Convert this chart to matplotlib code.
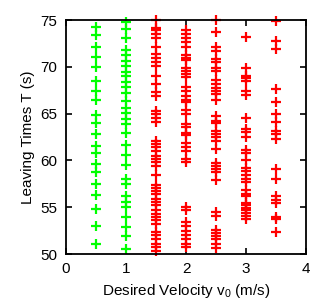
import numpy as np
import matplotlib.pyplot as plt

# leaving times, one list per desired velocity
t_05 = [74.3, 73.4, 72.1, 71.1, 70.0, 68.5, 67.4, 66.5, 64.9, 64.0, 62.8, 61.6,
        60.8, 59.6, 58.8, 57.5, 56.3, 54.8, 53.0, 51.1]
t_10 = [74.75, 74.0, 73.1, 71.8, 71.25, 70.64, 70.14, 69.5, 69.0, 68.4, 67.9, 67.25,
        66.4, 65.6, 65.07, 64.46, 63.85, 62.9, 61.64, 60.57, 59.57, 58.07, 57.5,
        56.18, 55.6, 55.03, 54.0, 52.9, 51.96, 50.56]
t_15 = [75.0, 74.2, 73.9, 73.5, 73.1, 72.1, 71.4, 70.9, 70.5, 70.1, 69.0, 68.2,
        67.3, 66.9, 65.3, 65.0, 64.5, 64.1, 62.1, 61.8, 61.4, 61.0, 60.5, 60.2,
        59.8, 59.4, 58.5, 57.4, 57.1, 56.7, 56.4, 55.9, 55.6, 55.2, 54.7, 54.3,
        54.0, 53.6, 53.2, 52.4, 52.0, 51.6, 51.1, 50.8, 50.3]
t_20 = [73.9, 73.5, 73.1, 72.7, 72.1, 71.3, 71.0, 70.7, 69.9, 69.6, 69.2, 68.9,
        67.9, 67.4, 66.9, 66.5, 66.2, 65.4, 65.0, 63.9, 63.6, 62.9, 62.7, 61.9,
        61.4, 61.0, 60.2, 59.8, 55.0, 54.7, 53.4, 53.0, 52.5, 52.0, 51.6, 51.1, 50.75]
t_25 = [75.0, 73.7, 72.1, 71.7, 70.8, 70.5, 69.9, 69.6, 68.6, 68.2, 67.8, 67.4,
        67.1, 66.5, 64.8, 64.2, 64.0, 63.2, 62.85, 62.5, 62.1, 61.2, 59.75, 59.4,
        59.1, 58.8, 57.9, 54.5, 54.1, 52.6, 52.3, 51.9, 51.6, 51.1, 50.6]
t_30 = [73.2, 69.9, 69.05, 68.8, 68.5, 67.4, 67.0, 64.5, 63.35, 63.0, 62.5, 61.1,
        60.8, 60.1, 59.2, 58.9, 58.5, 58.0, 57.7, 56.8, 56.4, 56.2, 55.5, 55.2,
        54.9, 54.7, 54.4, 54.1, 53.7]
t_35 = [74.9, 72.8, 71.9, 67.6, 66.3, 65.0, 64.1, 63.1, 62.85, 62.3, 59.05, 58.0,
        56.2, 55.8, 55.5, 54.0, 53.7, 52.4]

green_v = [0.5, 1.0]
green_t = [t_05, t_10]
red_v = [1.5, 2.0, 2.5, 3.0, 3.5]
red_t = [t_15, t_20, t_25, t_30, t_35]

plt.rcParams['font.family'] = ['Liberation Sans', 'DejaVu Sans']
plt.rcParams['mathtext.fontset'] = 'custom'
plt.rcParams['mathtext.rm'] = 'Liberation Sans'
plt.rcParams['mathtext.it'] = 'Liberation Sans'
fig = plt.figure(figsize=(3.14, 3.05), dpi=100)
ax = fig.add_axes([0.21, 0.167, 0.765, 0.767])

for v, t in zip(green_v, green_t):
    ax.plot(np.full(len(t), v), t, '+', color='#00ff00', ms=6.5, mew=1.6, clip_on=False)
for v, t in zip(red_v, red_t):
    ax.plot(np.full(len(t), v), t, '+', color='#ff0000', ms=6.5, mew=1.6, clip_on=False)

ax.set_xlim(0, 4)
ax.set_ylim(50, 75)
ax.set_xticks([0, 1, 2, 3, 4])
ax.set_yticks([50, 55, 60, 65, 70, 75])
ax.tick_params(direction='in', top=True, right=True, labelsize=11, length=4, width=1.2, pad=6)
for s in ax.spines.values():
    s.set_linewidth(1.3)
ax.set_xlabel('Desired Velocity v$_\\mathrm{0}$ (m/s)', fontsize=11, labelpad=4)
ax.set_ylabel('Leaving Times T (s)', fontsize=11, labelpad=4)

fig.savefig('out.png', dpi=100)
